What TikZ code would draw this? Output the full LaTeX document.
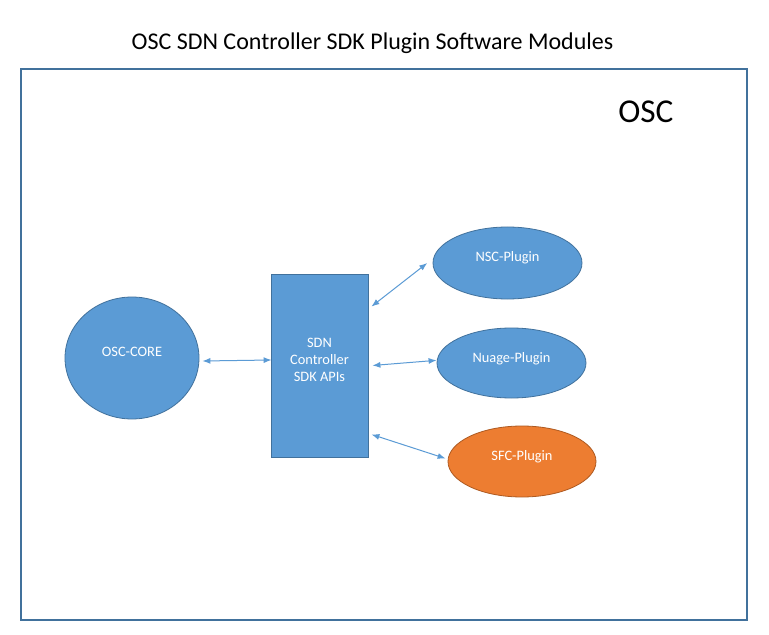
\documentclass[tikz,border=0pt]{standalone}
\usepackage{fontspec}
\setmainfont{Carlito}
\usetikzlibrary{shapes.geometric,arrows.meta}

\definecolor{boxblue}{HTML}{5B9BD5}
\definecolor{edgeblue}{HTML}{41719C}
\definecolor{plugorange}{HTML}{ED7D31}
\definecolor{edgeorange}{HTML}{AE5A21}

\begin{document}
\begin{tikzpicture}[x=0.75pt, y=-0.75pt,
  module/.style={ellipse, draw=edgeblue, fill=boxblue, line width=0.6pt, inner sep=0pt,
    text=white, text depth=9pt, font=\fontsize{10.8}{13}\selectfont},
  apibox/.style={rectangle, draw=edgeblue, fill=boxblue, line width=0.6pt, inner sep=0pt,
    text=white, align=center, text depth=8.5pt, font=\fontsize{10.8}{13}\selectfont},
  link/.style={draw=boxblue, line width=0.75pt,
    {Latex[length=6pt,width=4.5pt]}-{Latex[length=6pt,width=4.5pt]}}]
  \useasboundingbox (0,0) rectangle (769,635);
  \fill[white] (0,0) rectangle (769,635);

  % frame and titles
  \draw[edgeblue, line width=0.9pt] (21,69) rectangle (747,620);
  \node[anchor=base, inner sep=0pt, font=\fontsize{18}{21}\selectfont] (title) at (372.5,50)
    {OSC SDN Controller SDK Plugin Software Modules};
  \node[anchor=base west, inner sep=0pt, font=\fontsize{25}{30}\selectfont] (osc) at (618,123) {OSC};

  % modules
  \node[module, minimum width=100.5pt, minimum height=91.5pt] (core) at (132,358) {OSC-CORE};
  \node[apibox, minimum width=72.75pt, minimum height=137.25pt] (api) at (319.5,365.5)
    {SDN\\Controller\\SDK APIs};
  \node[module, minimum width=111.75pt, minimum height=54pt] (nsc) at (507.5,263) {NSC-Plugin};
  \node[module, minimum width=111.75pt, minimum height=52.5pt] (nuage) at (511.5,363) {Nuage-Plugin};
  \node[module, fill=plugorange, draw=edgeorange, minimum width=111pt, minimum height=53.25pt]
    (sfc) at (522,461.5) {SFC-Plugin};

  % connectors
  \draw[link] ([shift={(3,3)}]core.east) -- ([shift={(1,-5.5)}]api.west);
  \draw[link] ([shift={(3,33)}]api.north east) -- ([xshift=-4]nsc.west);
  \draw[link] ([xshift=3]api.east) -- ([yshift=2]nuage.west);
  \draw[link] ([shift={(3,-23)}]api.south east) -- ([shift={(-2,-3)}]sfc.west);
\end{tikzpicture}
\end{document}
